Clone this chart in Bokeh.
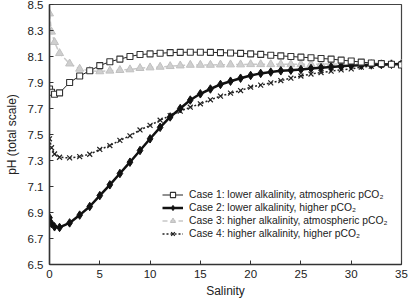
from bokeh.plotting import figure
from bokeh.models import (Range1d, FixedTicker, NumeralTickFormatter, Legend, LegendItem)
from bokeh.embed import file_html
from bokeh.resources import INLINE

salinity = [0, 0.2, 0.5, 1, 2, 3, 4, 5, 6, 7, 8, 9, 10, 11, 12, 13, 14, 15, 16, 17,
            18, 19, 20, 21, 22, 23, 24, 25, 26, 27, 28, 29, 30, 31, 32, 33, 34, 35]

case1 = [7.85, 7.825, 7.81, 7.82, 7.90, 7.95, 7.99, 8.03, 8.06, 8.08, 8.10, 8.115, 8.12,
         8.125, 8.13, 8.132, 8.133, 8.133, 8.132, 8.13, 8.127, 8.124, 8.12, 8.116, 8.11,
         8.105, 8.10, 8.095, 8.09, 8.085, 8.08, 8.072, 8.065, 8.057, 8.05, 8.045, 8.04, 8.035]

case2 = [6.86, 6.815, 6.79, 6.785, 6.82, 6.88, 6.946, 7.03, 7.113, 7.20, 7.287, 7.377,
         7.467, 7.555, 7.635, 7.70, 7.765, 7.813, 7.85, 7.885, 7.91, 7.933, 7.954, 7.97,
         7.98, 7.99, 7.995, 8.0, 8.008, 8.014, 8.02, 8.025, 8.03, 8.032, 8.035, 8.038, 8.04, 8.042]

case3 = [8.43, 8.29, 8.21, 8.125, 8.045, 8.005, 7.99, 7.985, 7.99, 7.995, 8.0, 8.01,
         8.015, 8.02, 8.025, 8.03, 8.035, 8.035, 8.035, 8.037, 8.038, 8.038, 8.04, 8.04,
         8.04, 8.04, 8.04, 8.04, 8.04, 8.042, 8.042, 8.042, 8.043, 8.043, 8.044, 8.044, 8.045, 8.045]

case4 = [7.467, 7.398, 7.35, 7.325, 7.32, 7.33, 7.348, 7.385, 7.415, 7.455, 7.49, 7.535,
         7.57, 7.61, 7.645, 7.68, 7.71, 7.736, 7.767, 7.795, 7.818, 7.838, 7.864, 7.88,
         7.897, 7.915, 7.933, 7.95, 7.965, 7.977, 7.987, 7.997, 8.005, 8.018, 8.026, 8.034, 8.04, 8.045]

labels = [
    "Case 1: lower alkalinity, atmospheric pCO\u2082",
    "Case 2: lower alkalinity, higher pCO\u2082",
    "Case 3: higher alkalinity, atmospheric pCO\u2082",
    "Case 4: higher alkalinity, higher pCO\u2082",
]

x_title = "Salinity"
y_title = "pH (total scale)"

x_ticks = [0, 5, 10, 15, 20, 25, 30, 35]
y_ticks = [6.5, 6.7, 6.9, 7.1, 7.3, 7.5, 7.7, 7.9, 8.1, 8.3, 8.5]

FONT = "Liberation Sans"

p = figure(width=409, height=306, output_backend="svg", toolbar_location=None,
           x_range=Range1d(0, 35), y_range=Range1d(6.5, 8.5),
           min_border_left=49, min_border_right=8, min_border_top=4, min_border_bottom=42)
p.grid.visible = False
p.outline_line_color = "#444444"
p.outline_line_width = 1.2
p.background_fill_color = "white"
p.border_fill_color = "white"

for ax in (p.xaxis[0], p.yaxis[0]):
    ax.axis_line_color = "#333333"
    ax.axis_line_width = 1.5
    ax.major_tick_in = 4
    ax.major_tick_out = 0
    ax.major_tick_line_color = "#333333"
    ax.minor_tick_line_color = None
    ax.major_label_text_font = FONT
    ax.major_label_text_font_size = "11.5px"
    ax.major_label_text_color = "#222222"
    ax.axis_label_text_font = FONT
    ax.axis_label_text_font_style = "normal"
    ax.axis_label_text_color = "#222222"
    ax.axis_label_text_font_size = "12px"

p.xaxis.ticker = FixedTicker(ticks=x_ticks)
p.yaxis.ticker = FixedTicker(ticks=y_ticks)
p.yaxis.formatter = NumeralTickFormatter(format="0.0")
p.xaxis.major_label_standoff = 5
p.yaxis.major_label_standoff = 6
p.xaxis.axis_label = x_title
p.xaxis.axis_label_standoff = 3
p.yaxis.axis_label = y_title
p.yaxis.axis_label_standoff = 6

# Case 3 (light gray dashed, triangles)
l3 = p.line(salinity, case3, line_color="#c8c8c8", line_width=1.5, line_dash="5 3")
s3 = p.scatter(salinity, case3, marker="triangle", size=8, fill_color="#cfcfcf",
               line_color="#c0c0c0")
# Case 4 (dotted, x)
l4 = p.line(salinity, case4, line_color="#222222", line_width=1.5, line_dash="2 2")
s4 = p.scatter(salinity, case4, marker="x", size=7, line_color="#222222", line_width=1.2)
# Case 2 (thick black, diamonds)
l2 = p.line(salinity, case2, line_color="#111111", line_width=2.5)
s2 = p.scatter(salinity, case2, marker="diamond", size=8.5, fill_color="#111111",
               line_color="#111111")
# Case 1 (thin black, open squares)
l1 = p.line(salinity, case1, line_color="#222222", line_width=1)
s1 = p.scatter(salinity, case1, marker="square", size=6, fill_color="white",
               line_color="#333333", line_width=1.1)

legend = Legend(items=[
    LegendItem(label=labels[0], renderers=[l1, s1]),
    LegendItem(label=labels[1], renderers=[l2, s2]),
    LegendItem(label=labels[2], renderers=[l3, s3]),
    LegendItem(label=labels[3], renderers=[l4, s4]),
], location=(113, 24))
legend.border_line_color = None
legend.background_fill_alpha = 0
legend.padding = 0
legend.margin = 0
legend.spacing = 0
legend.label_height = 13
legend.glyph_height = 13
legend.glyph_width = 21
legend.label_standoff = 6
legend.label_text_font = FONT
legend.label_text_font_size = "10.3px"
legend.label_text_color = "#222222"
p.add_layout(legend)

open("out.html", "w").write(file_html(p, INLINE))
